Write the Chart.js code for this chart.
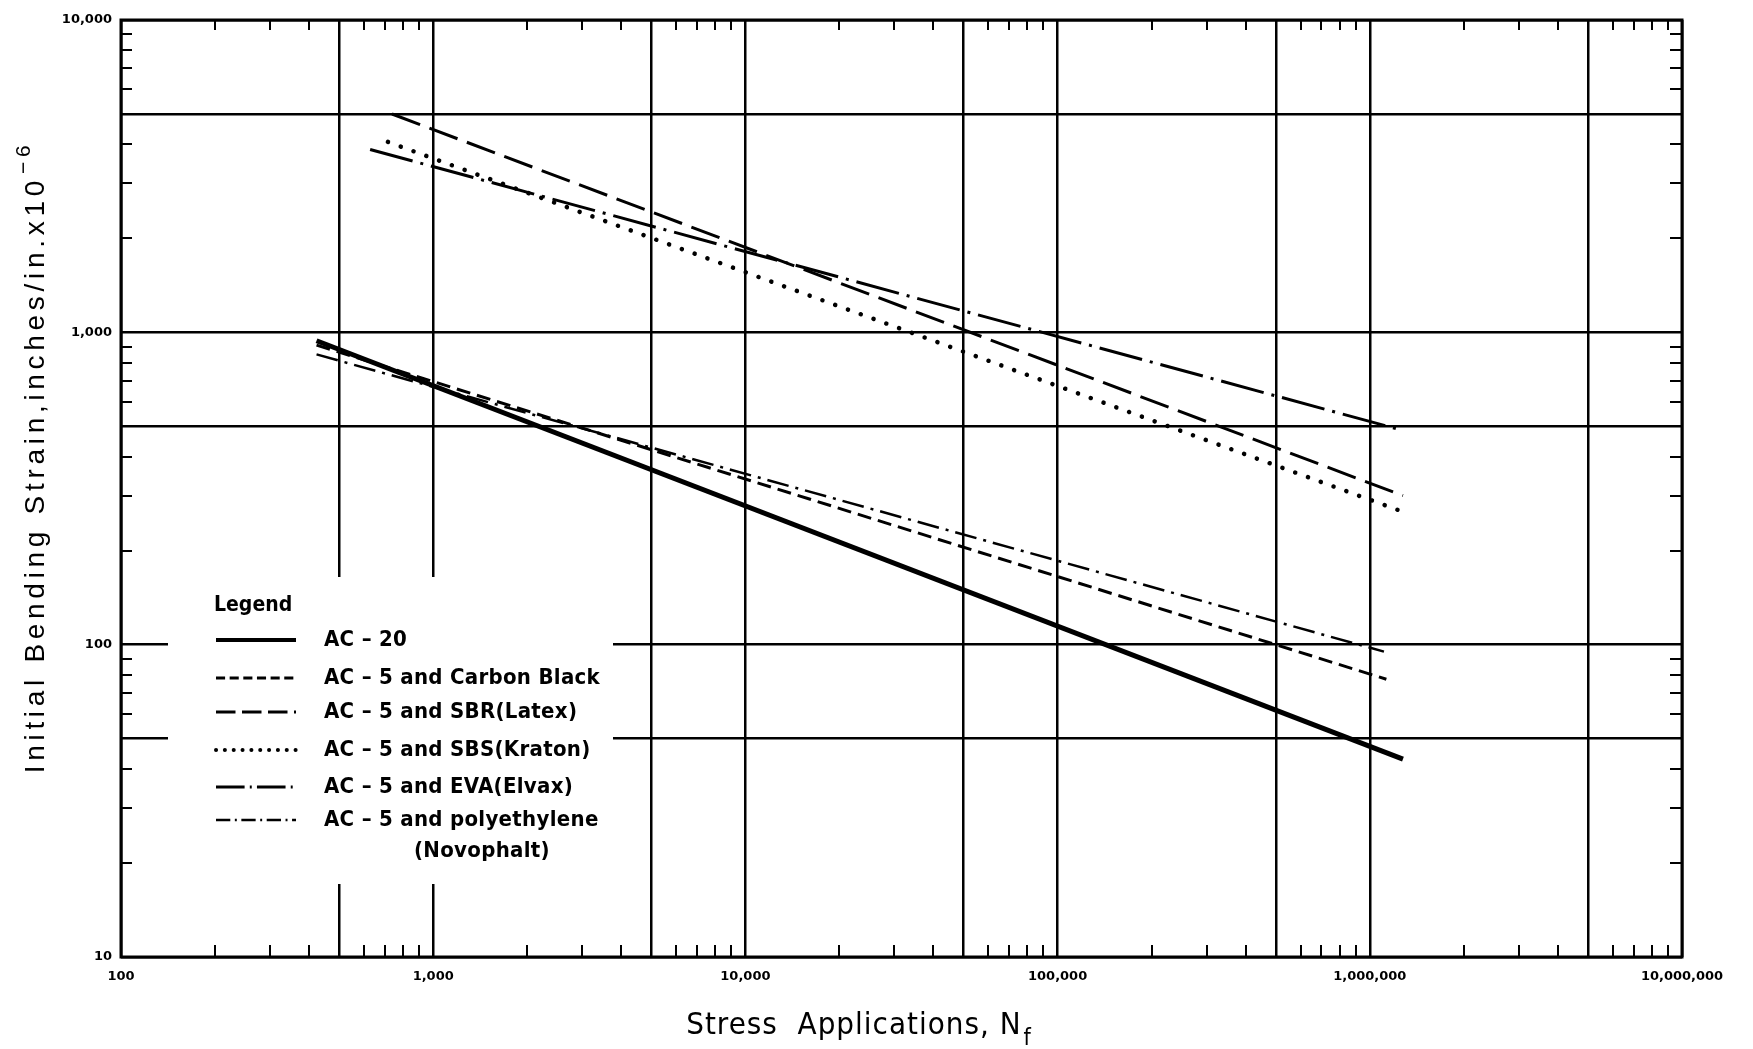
<!DOCTYPE html>
<html>
<head>
<meta charset="utf-8">
<title>Initial Bending Strain vs Stress Applications</title>
<script src="https://cdn.jsdelivr.net/npm/chart.js@4.4.1/dist/chart.umd.min.js"></script>
<style>
  html, body { margin: 0; padding: 0; background: #fff; }
</style>
</head>
<body>
<canvas id="strainChart" width="1753" height="1049"></canvas>
<script>
// fatigue lines on log-log paper: stress applications (Nf) vs initial bending strain (x10^-6 in/in)
const seriesNames = [
  "AC \u2013 20",
  "AC \u2013 5 and Carbon Black",
  "AC \u2013 5 and SBR(Latex)",
  "AC \u2013 5 and SBS(Kraton)",
  "AC \u2013 5 and EVA(Elvax)",
  "AC \u2013 5 and polyethylene",
];

// end points of each fitted line
const ac20Cycles = [423, 1277000];
const ac20Strain = [940, 43];
const carbonCycles = [423, 1130000];
const carbonStrain = [910, 77.5];
const sbrCycles = [738, 1277000];
const sbrStrain = [5000, 300];
const sbsCycles = [716, 1230000];
const sbsStrain = [4070, 270];
const evaCycles = [628, 1277000];
const evaStrain = [3850, 485];
const polyCycles = [423, 1110000];
const polyStrain = [850, 95];

const xGridValues = [100, 500, 1000, 5000, 10000, 50000, 100000, 500000, 1000000, 5000000, 10000000];
const yGridValues = [10, 50, 100, 500, 1000, 5000, 10000];
const xDecades = [100, 1000, 10000, 100000, 1000000, 10000000];
const xTickLabels = ["100", "1,000", "10,000", "100,000", "1,000,000", "10,000,000"];
const yDecades = [10, 100, 1000, 10000];
const yTickLabels = ["10", "100", "1,000", "10,000"];

const minorSteps = [2, 3, 4, 6, 7, 8, 9];

function toPoints(xs, ys) {
  return xs.map((v, i) => ({ x: v, y: ys[i] }));
}

const lineStyles = [
  { width: 5, dash: [], cap: "butt" },
  { width: 3, dash: [14, 7], cap: "butt" },
  { width: 3, dash: [30, 10], cap: "butt" },
  { width: 4.5, dash: [0.1, 13.5], cap: "round" },
  { width: 3, dash: [44, 8, 3, 8], cap: "butt" },
  { width: 2.5, dash: [22, 7, 3, 7], cap: "butt" },
];

const seriesData = [
  toPoints(ac20Cycles, ac20Strain),
  toPoints(carbonCycles, carbonStrain),
  toPoints(sbrCycles, sbrStrain),
  toPoints(sbsCycles, sbsStrain),
  toPoints(evaCycles, evaStrain),
  toPoints(polyCycles, polyStrain),
];

const datasets = seriesNames.map((name, i) => ({
  label: name,
  data: seriesData[i],
  borderColor: "#000",
  borderWidth: lineStyles[i].width,
  borderDash: lineStyles[i].dash,
  borderCapStyle: lineStyles[i].cap,
  pointRadius: 0,
  fill: false,
  tension: 0,
}));

// inward minor ticks on all four sides plus the heavy frame
const paperTicks = {
  id: "paperTicks",
  afterDraw(chart) {
    const { ctx, chartArea: a, scales } = chart;
    const x = scales.x, y = scales.y;
    ctx.save();
    ctx.strokeStyle = "#000";
    ctx.lineWidth = 2;
    ctx.beginPath();
    for (let d = 100; d < 10000000; d *= 10) {
      minorSteps.forEach((m) => {
        const px = Math.round(x.getPixelForValue(d * m));
        ctx.moveTo(px, a.bottom);
        ctx.lineTo(px, a.bottom - 12);
        ctx.moveTo(px, a.top);
        ctx.lineTo(px, a.top + 10);
      });
    }
    for (let d = 10; d < 10000; d *= 10) {
      minorSteps.forEach((m) => {
        const py = Math.round(y.getPixelForValue(d * m));
        ctx.moveTo(a.left, py);
        ctx.lineTo(a.left + 11, py);
        ctx.moveTo(a.right, py);
        ctx.lineTo(a.right - 12, py);
      });
    }
    ctx.stroke();
    ctx.lineWidth = 3;
    ctx.strokeRect(a.left, a.top, a.right - a.left, a.bottom - a.top);
    ctx.restore();
  },
};

// legend box sits on the paper and blanks the grid behind it
const legendBox = {
  id: "legendBox",
  beforeDatasetsDraw(chart) {
    const ctx = chart.ctx;
    ctx.save();
    ctx.fillStyle = "#fff";
    ctx.fillRect(168, 577, 445, 307);

    ctx.fillStyle = "#000";
    ctx.textBaseline = "middle";
    ctx.font = 'bold 21px "DejaVu Sans Condensed", "DejaVu Sans", sans-serif';
    ctx.fillText("Legend", 214, 606);

    const rows = [640, 678, 712, 750, 787, 820];
    ctx.font = 'bold 22px "DejaVu Sans Condensed", "DejaVu Sans", sans-serif';
    ctx.letterSpacing = "0.3px";
    rows.forEach((ry, i) => {
      const st = lineStyles[i];
      ctx.beginPath();
      ctx.lineWidth = Math.min(st.width, 4);
      ctx.lineCap = st.cap;
      ctx.setLineDash(st.dash.length ? st.dash.map((v) => v * 0.65) : []);
      ctx.moveTo(216, ry);
      ctx.lineTo(296, ry);
      ctx.stroke();
      ctx.setLineDash([]);
      ctx.fillText(seriesNames[i], 324, ry);
    });
    ctx.fillText("(Novophalt)", 414, 851);
    ctx.restore();
  },
};

// axis titles, with the raised exponent and the subscript
const axisTitles = {
  id: "axisTitles",
  afterDraw(chart) {
    const ctx = chart.ctx;
    ctx.save();
    ctx.fillStyle = "#000";
    ctx.textBaseline = "alphabetic";

    // vertical title
    ctx.translate(44, 458);
    ctx.rotate(-Math.PI / 2);
    ctx.font = '28px "Liberation Sans", Arial, sans-serif';
    ctx.letterSpacing = "4.7px";
    const main = "Initial Bending Strain,inches/in.x10";
    const wMain = ctx.measureText(main).width;
    ctx.font = '21px "Liberation Sans", Arial, sans-serif';
    const sup = "\u22126";
    const wSup = ctx.measureText(sup).width;
    const start = -(wMain + wSup) / 2;
    ctx.font = '28px "Liberation Sans", Arial, sans-serif';
    ctx.textAlign = "left";
    ctx.fillText(main, start, 0);
    ctx.font = '21px "Liberation Sans", Arial, sans-serif';
    ctx.fillText(sup, start + wMain + 2, -14);
    ctx.restore();

    // horizontal title
    ctx.save();
    ctx.fillStyle = "#000";
    ctx.textBaseline = "alphabetic";
    ctx.letterSpacing = "1px";
    ctx.font = '31px "DejaVu Sans Condensed", "DejaVu Sans", sans-serif';
    const xt = "Stress  Applications, N";
    const wx = ctx.measureText(xt).width;
    ctx.font = '23px "DejaVu Sans Condensed", "DejaVu Sans", sans-serif';
    const wf = ctx.measureText("f").width;
    const sx = 858 - (wx + wf) / 2;
    ctx.font = '31px "DejaVu Sans Condensed", "DejaVu Sans", sans-serif';
    ctx.fillText(xt, sx, 1034);
    ctx.font = '23px "DejaVu Sans Condensed", "DejaVu Sans", sans-serif';
    ctx.fillText("f", sx + wx + 2, 1045);
    ctx.restore();
  },
};

const tickFont = { family: '"DejaVu Sans", sans-serif', size: 13, weight: "bold" };

new Chart(document.getElementById("strainChart"), {
  type: "line",
  data: { datasets },
  options: {
    responsive: false,
    animation: false,
    events: [],
    layout: { padding: { left: 0, right: 71, top: 20, bottom: 0 } },
    plugins: {
      legend: { display: false },
      tooltip: { enabled: false },
    },
    scales: {
      x: {
        type: "logarithmic",
        min: 100,
        max: 10000000,
        afterBuildTicks: (axis) => {
          axis.ticks = xGridValues.map((v) => ({ value: v }));
        },
        afterFit: (axis) => {
          axis.height = 92;
        },
        ticks: {
          autoSkip: false,
          maxRotation: 0,
          padding: 12,
          color: "#000",
          font: tickFont,
          callback: (value) => {
            const i = xDecades.indexOf(value);
            return i >= 0 ? xTickLabels[i] : "";
          },
        },
        grid: { color: "#000", lineWidth: 2.5, drawTicks: false },
        border: { display: false },
      },
      y: {
        type: "logarithmic",
        min: 10,
        max: 10000,
        afterBuildTicks: (axis) => {
          axis.ticks = yGridValues.map((v) => ({ value: v }));
        },
        afterFit: (axis) => {
          axis.width = 121;
        },
        ticks: {
          autoSkip: false,
          padding: 9,
          color: "#000",
          font: tickFont,
          callback: (value) => {
            const i = yDecades.indexOf(value);
            return i >= 0 ? yTickLabels[i] : "";
          },
        },
        grid: { color: "#000", lineWidth: 2.5, drawTicks: false },
        border: { display: false },
      },
    },
  },
  plugins: [legendBox, paperTicks, axisTitles],
});
</script>
</body>
</html>
